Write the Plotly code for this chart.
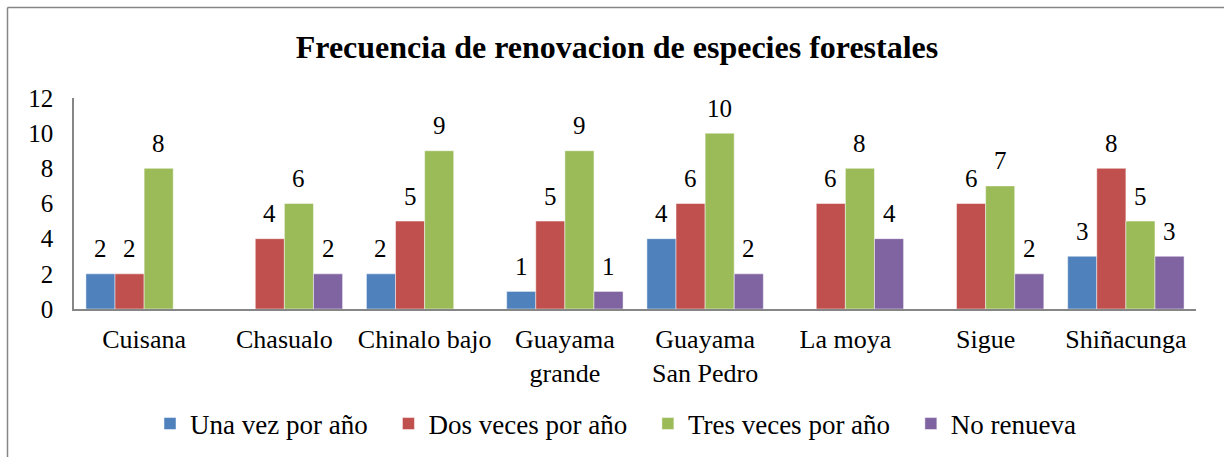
import plotly.graph_objects as go

categories = ["Cuisana", "Chasualo", "Chinalo bajo", "Guayama<br>grande",
              "Guayama<br>San Pedro", "La moya", "Sigue", "Shiñacunga"]
series_names = ["Una vez por año", "Dos veces por año", "Tres veces por año", "No renueva"]
una_vez = [2, None, 2, 1, 4, None, None, 3]
dos_veces = [2, 4, 5, 5, 6, 6, 6, 8]
tres_veces = [8, 6, 9, 9, 10, 8, 7, 5]
no_renueva = [None, 2, None, 1, 2, 4, 2, 3]
colors = ["#4F81BD", "#C0504D", "#9BBB59", "#8064A2"]
y_ticks = [0, 2, 4, 6, 8, 10, 12]

W, H = 1224, 457
L, R, T, B = 74, 28, 98, 148
BARGAP = 0.17
FONT = "Liberation Serif"
PAD = "\u00a0\u00a0\u200a"  # extra spacing between legend entries

all_series = [una_vez, dos_veces, tres_veces, no_renueva]

fig = go.Figure()
for k, (name, vals, col) in enumerate(zip(series_names, all_series, colors)):
    fig.add_trace(go.Bar(
        x=categories, y=vals, name=name + (PAD if k < len(series_names) - 1 else ""),
        marker=dict(color=col, line=dict(color="rgba(255,255,255,0.6)", width=0.8)),
    ))

plot_w = W - L - R
plot_h = H - T - B
cat_w = plot_w / len(categories)
bar_w = cat_w * (1 - BARGAP) / len(all_series)

annotations = []
for i, vals in enumerate(all_series):
    for cat, v in zip(categories, vals):
        if v is None:
            continue
        annotations.append(dict(
            x=cat, y=v, xref="x", yref="y", text=str(v), showarrow=False,
            xshift=(i - 1.5) * bar_w, yshift=25, yanchor="middle",
            font=dict(family=FONT, size=25, color="#000000"),
        ))

# chart border (top and left edges visible)
px = lambda p: (p - L) / plot_w
py = lambda p: (H - B - p) / plot_h
shapes = [
    dict(type="line", xref="paper", yref="paper", x0=px(7.5), x1=px(1230), y0=py(7.5), y1=py(7.5),
         line=dict(color="#868686", width=1.5)),
    dict(type="line", xref="paper", yref="paper", x0=px(7.5), x1=px(7.5), y0=py(7.5), y1=py(470),
         line=dict(color="#868686", width=1.5)),
]

fig.update_layout(
    width=W, height=H,
    margin=dict(l=L, r=R, t=T, b=B, autoexpand=False),
    paper_bgcolor="white", plot_bgcolor="white",
    barmode="group", bargap=BARGAP, bargroupgap=0,
    font=dict(family=FONT, color="#000000"),
    title=dict(text="<b>Frecuencia de renovacion de especies forestales</b>",
               x=px(617), xref="paper", xanchor="center", y=1 - 47 / H, yanchor="middle",
               font=dict(family=FONT, size=32, color="#000000")),
    xaxis=dict(showline=True, linecolor="#868686", linewidth=1.5, ticks="", automargin=False,
               showgrid=False, tickfont=dict(family=FONT, size=26, color="#000000"),
               ticklabelstandoff=6),
    yaxis=dict(range=[0, 12], tickvals=y_ticks, showline=True, linecolor="#868686", linewidth=1.5,
               ticks="", showgrid=False, zeroline=False, automargin=False,
               tickfont=dict(family=FONT, size=25, color="#000000"), ticklabelstandoff=14),
    legend=dict(orientation="h", x=px(616), xanchor="center", y=(H - B - 424) / plot_h, yanchor="middle",
                font=dict(family=FONT, size=27, color="#000000"), itemwidth=30,
                traceorder="normal"),
    annotations=annotations,
    shapes=shapes,
)

fig.write_html("out.html", config={"displayModeBar": False},
               post_script="document.body.style.margin='0px';")
